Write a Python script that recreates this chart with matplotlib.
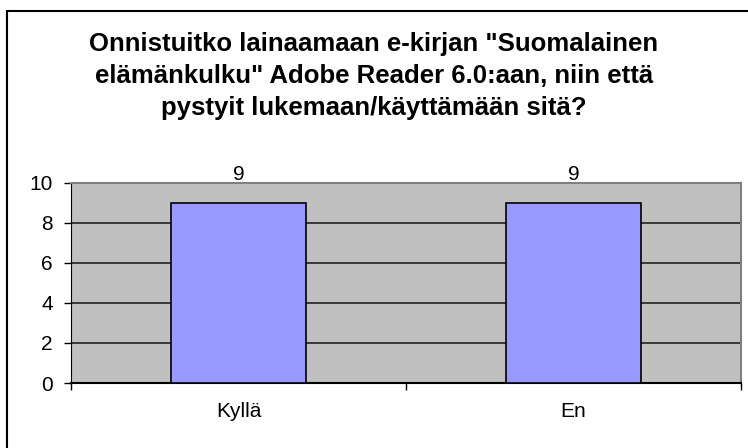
import matplotlib.pyplot as plt
from matplotlib.patches import Rectangle

plt.rcParams['font.family'] = ['Liberation Sans', 'DejaVu Sans']

kategoriat = ['Kyllä', 'En']
arvot = [9, 9]
y_ticks = [0, 2, 4, 6, 8, 10]
otsikko = 'Onnistuitko lainaamaan e-kirjan "Suomalainen\nelämänkulku" Adobe Reader 6.0:aan, niin että\npystyit lukemaan/käyttämään sitä?'

W, H = 748, 448
fig = plt.figure(figsize=(W / 100, H / 100), dpi=100)

# ulkoreunus (vain vasen ja ylä näkyvät kuvassa)
fig.patches.append(Rectangle((7 / W, -0.1), 1.2, (H - 11) / H + 0.1, transform=fig.transFigure,
                             facecolor='none', edgecolor='black', linewidth=1.5))

# piirtoalue
ax = fig.add_axes([71 / W, (H - 383) / H, (741 - 71) / W, (383 - 183) / H])
ax.set_facecolor('#C0C0C0')

x = list(range(len(kategoriat)))
ax.bar(x, arvot, width=0.405, color='#9999FF', edgecolor='black', linewidth=1.2, zorder=3)
for xi, v in zip(x, arvot):
    ax.text(xi, v + 1.4, str(v), ha='center', va='center', fontsize=15, clip_on=False)

ax.set_xlim(-0.5, len(kategoriat) - 0.5)
ax.set_ylim(0, 10)
ax.set_yticks(y_ticks)
ax.yaxis.grid(True, color='#222222', linewidth=1.2, zorder=1)
ax.set_axisbelow(True)

# x-akselin jakoviivat kategorioiden rajoilla
ax.set_xticks([-0.5, 0.5, 1.5])
ax.set_xticklabels([])
ax.set_xticks(x, minor=True)
ax.set_xticklabels(kategoriat, minor=True, fontsize=15)
ax.tick_params(axis='x', which='minor', length=0, pad=14)
ax.tick_params(axis='x', which='major', length=5, width=1, direction='out')
ax.tick_params(axis='y', length=5, width=1, direction='out', labelsize=15, pad=8)

for s in ['top', 'right']:
    ax.spines[s].set_color('#808080')
    ax.spines[s].set_linewidth(1.5)
ax.spines['left'].set_color('black')
ax.spines['bottom'].set_color('black')
ax.spines['bottom'].set_linewidth(1.5)

fig.text(374 / W, 1 - 76 / H, otsikko, ha='center', va='center', fontsize=18.5,
         fontweight='bold', linespacing=1.4)

plt.savefig('out.png', dpi=100)
